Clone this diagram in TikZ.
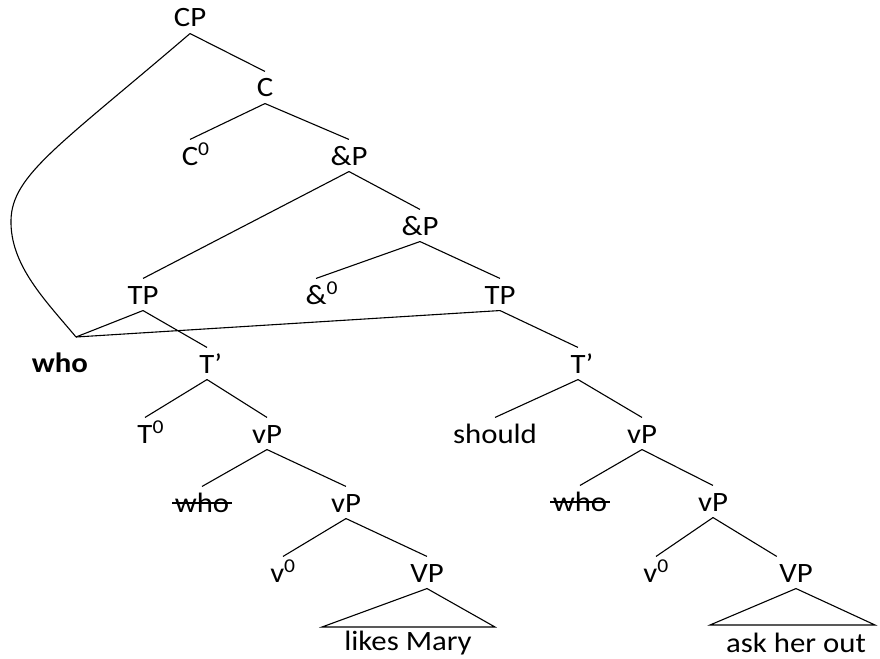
\documentclass[tikz,border=0pt]{standalone}
\usepackage{fontspec}
\setmainfont{Carlito}[FakeStretch=1.1]

\begin{document}
\begin{tikzpicture}[x=1pt, y=-1pt, line width=1.1pt,
        every node/.style={anchor=base, inner sep=2pt, text height=23pt, text depth=4pt,
            font=\fontsize{28}{30}\selectfont}]
            \useasboundingbox ( 0, 0 ) rectangle ( 880, 658 );

            % узлы
            \node (cp) at ( 190, 27 ) {CP};
            \node (c) at ( 265, 97 ) {C};
            \node (c0) at ( 190, 165 ) {C\rlap{\textsuperscript{0}}};
            \node (andp1) at ( 349, 165 ) {\&P};
            \node (andp2) at ( 420, 235 ) {\&P};
            \node (tp1) at ( 143, 304 ) {TP};
            \node (and0) at ( 316, 304 ) {\&\rlap{\textsuperscript{0}}};
            \node (tp2) at ( 500, 304 ) {TP};
            \node (who) at ( 60, 372 ) {\textbf{who}};
            \node (tb1) at ( 207, 373 ) {T\rlap{’}};
            \node (tb2) at ( 578, 373 ) {T\rlap{’}};
            \node (t0) at ( 145, 443 ) {T\rlap{\textsuperscript{0}}};
            \node (vp1) at ( 267, 443 ) {vP};
            \node (should) at ( 495, 443 ) {should};
            \node (vp2) at ( 642, 443 ) {vP};
            \node (wl) at ( 202, 512 ) {who};
            \node (vp3) at ( 346, 512 ) {vP};
            \node (wr) at ( 580, 511 ) {who};
            \node (vp4) at ( 713, 511 ) {vP};
            \node (v0l) at ( 283, 582 ) {v\textsuperscript{0}};
            \node (vp5) at ( 427, 582 ) {VP};
            \node (v0r) at ( 656, 582 ) {v\textsuperscript{0}};
            \node (vp6) at ( 796, 582 ) {VP};
            \node (likes) at ( 408, 650 ) {likes Mary};
            \node (ask) at ( 796, 652 ) {ask her out};

            \coordinate (whotop) at ( 76, 337 );
            \coordinate (bend) at ( 11, 220 );
            \coordinate (bl1) at ( 322, 627 );
            \coordinate (bl2) at ( 495, 627 );
            \coordinate (br1) at ( 710, 625 );
            \coordinate (br2) at ( 875, 625 );

            % зачёркивание
            \draw [line width=1.6pt] ([yshift=9pt]wl.base west) -- ([yshift=9pt]wl.base east);
            \draw [line width=1.6pt] ([yshift=9pt]wr.base west) -- ([yshift=9pt]wr.base east);

            % ветви
            \draw (cp.south) -- (c.north);
            \draw (c.south) -- (c0.north);
            \draw (c.south) -- (andp1.north);
            \draw (andp1.south) -- (tp1.north);
            \draw (andp1.south) -- (andp2.north);
            \draw (andp2.south) -- (and0.north);
            \draw (andp2.south) -- (tp2.north);
            \draw (tp1.south) -- (whotop);
            \draw (tp1.south) -- (tb1.north);
            \draw (tp2.south) -- (whotop);
            \draw (tp2.south) -- (tb2.north);
            \draw (tb1.south) -- (t0.north);
            \draw (tb1.south) -- (vp1.north);
            \draw (tb2.south) -- (should.north);
            \draw (tb2.south) -- (vp2.north);
            \draw (vp1.south) -- (wl.north);
            \draw (vp1.south) -- (vp3.north);
            \draw (vp2.south) -- (wr.north);
            \draw (vp2.south) -- (vp4.north);
            \draw (vp3.south) -- (v0l.north);
            \draw (vp3.south) -- (vp5.north);
            \draw (vp4.south) -- (v0r.north);
            \draw (vp4.south) -- (vp6.north west);

            % треугольники
            \draw (vp5.south) -- (bl1) -- (bl2) -- cycle;
            \draw (vp6.south) -- (br1) -- (br2) -- cycle;

            % перемещение
            \draw (cp.south) .. controls ( 60, 145 ) and ( 12, 175 ) .. (bend)
                .. controls ( 10, 265 ) and ( 45, 300 ) .. (whotop);
        \end{tikzpicture}
\end{document}
